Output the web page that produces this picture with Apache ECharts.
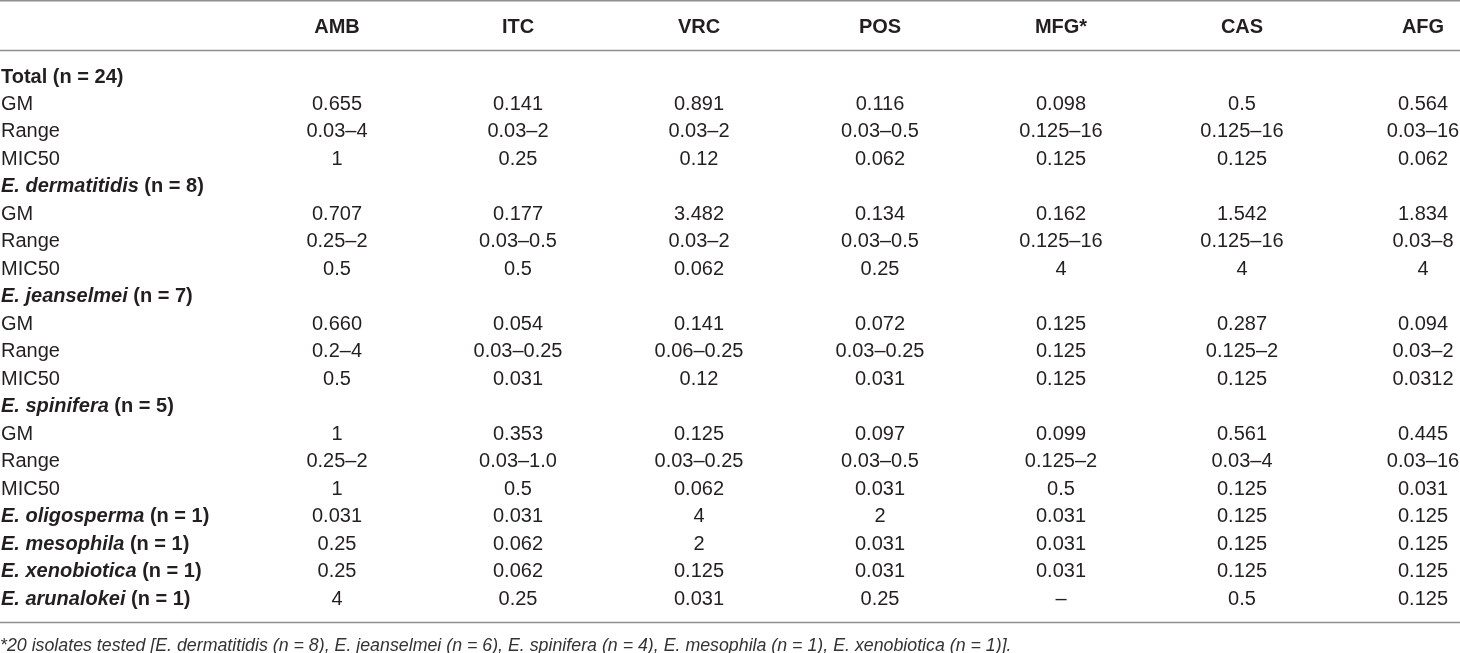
<!DOCTYPE html>
<html>
	<head>
		<title>MIC table</title>
		<meta charset="UTF-8">
		<script src="https://cdn.jsdelivr.net/npm/echarts@6/dist/echarts.min.js" type="text/javascript"></script>
		<style>
			body { margin: 0; background: #fff; }
			#table_chart { width: 1460px; height: 653px; }
		</style>
	</head>
	<body>
		<div id="table_chart"></div>
		<script type="text/javascript">
			// column headers (drugs)
			var columns = ['AMB', 'ITC', 'VRC', 'POS', 'MFG*', 'CAS', 'AFG'];

			// row labels, top to bottom
			var rowLabels = [
				'Total (n = 24)', 'GM', 'Range', 'MIC50',
				'E. dermatitidis (n = 8)', 'GM', 'Range', 'MIC50',
				'E. jeanselmei (n = 7)', 'GM', 'Range', 'MIC50',
				'E. spinifera (n = 5)', 'GM', 'Range', 'MIC50',
				'E. oligosperma (n = 1)', 'E. mesophila (n = 1)',
				'E. xenobiotica (n = 1)', 'E. arunalokei (n = 1)'
			];

			// one list per column, same order as rowLabels ('' = empty cell)
			var amb = ['', '0.655', '0.03–4', '1', '', '0.707', '0.25–2', '0.5', '', '0.660', '0.2–4', '0.5', '', '1', '0.25–2', '1', '0.031', '0.25', '0.25', '4'];
			var itc = ['', '0.141', '0.03–2', '0.25', '', '0.177', '0.03–0.5', '0.5', '', '0.054', '0.03–0.25', '0.031', '', '0.353', '0.03–1.0', '0.5', '0.031', '0.062', '0.062', '0.25'];
			var vrc = ['', '0.891', '0.03–2', '0.12', '', '3.482', '0.03–2', '0.062', '', '0.141', '0.06–0.25', '0.12', '', '0.125', '0.03–0.25', '0.062', '4', '2', '0.125', '0.031'];
			var pos = ['', '0.116', '0.03–0.5', '0.062', '', '0.134', '0.03–0.5', '0.25', '', '0.072', '0.03–0.25', '0.031', '', '0.097', '0.03–0.5', '0.031', '2', '0.031', '0.031', '0.25'];
			var mfg = ['', '0.098', '0.125–16', '0.125', '', '0.162', '0.125–16', '4', '', '0.125', '0.125', '0.125', '', '0.099', '0.125–2', '0.5', '0.031', '0.031', '0.031', '–'];
			var cas = ['', '0.5', '0.125–16', '0.125', '', '1.542', '0.125–16', '4', '', '0.287', '0.125–2', '0.125', '', '0.561', '0.03–4', '0.125', '0.125', '0.125', '0.125', '0.5'];
			var afg = ['', '0.564', '0.03–16', '0.062', '', '1.834', '0.03–8', '4', '', '0.094', '0.03–2', '0.0312', '', '0.445', '0.03–16', '0.031', '0.125', '0.125', '0.125', '0.125'];

			var footnote = '*20 isolates tested [E. dermatitidis (n = 8), E. jeanselmei (n = 6), E. spinifera (n = 4), E. mesophila (n = 1), E. xenobiotica (n = 1)].';

			var colValues = [amb, itc, vrc, pos, mfg, cas, afg];
			var cells = [];
			colValues.forEach(function (list, c) {
				list.forEach(function (v, r) {
					if (v !== '') cells.push([c, r, v]);
				});
			});

			var font = 'Liberation Sans, Helvetica, Arial, sans-serif';
			var ink = '#231f20';
			var ruleColor = '#8f8f8f';

			var W = 1460;
			var gridLeft = 337, gridRight = 37, gridTop = 77, gridBottom = 54;

			function rowFormatter(text) {
				if (text.indexOf('E. ') === 0) {
					var i = text.indexOf(' (');
					return '{sp|' + text.slice(0, i) + '}{b|' + text.slice(i) + '}';
				}
				if (text.indexOf('Total') === 0) return '{b|' + text + '}';
				return '{r|' + text + '}';
			}

			var option = {
				animation: false,
				backgroundColor: '#fff',
				title: {
					text: footnote,
					left: 0,
					top: 637,
					padding: 0,
					textStyle: {
						fontFamily: font,
						fontSize: 17.8,
						fontWeight: 'normal',
						fontStyle: 'italic',
						color: '#333'
					}
				},
				grid: {
					left: gridLeft,
					right: gridRight,
					top: gridTop,
					bottom: gridBottom,
					containLabel: false,
					outerBoundsMode: 'none'
				},
				xAxis: {
					type: 'category',
					position: 'top',
					data: columns,
					boundaryGap: false,
					axisLine: { show: false },
					axisTick: { show: false },
					splitLine: { show: false },
					axisLabel: {
						interval: 0,
						margin: 50,
						verticalAlign: 'middle',
						fontFamily: font,
						fontSize: 20,
						fontWeight: 'bold',
						color: ink
					}
				},
				yAxis: {
					type: 'category',
					inverse: true,
					data: rowLabels,
					boundaryGap: false,
					axisLine: { show: false },
					axisTick: { show: false },
					splitLine: { show: false },
					axisLabel: {
						interval: 0,
						margin: gridLeft - 1,
						align: 'left',
						formatter: rowFormatter,
						rich: {
							r: { fontFamily: font, fontSize: 20, color: ink },
							b: { fontFamily: font, fontSize: 20, fontWeight: 'bold', color: ink },
							sp: { fontFamily: font, fontSize: 20, fontWeight: 'bold', fontStyle: 'italic', color: ink }
						}
					}
				},
				series: [{
					type: 'scatter',
					data: cells,
					symbolSize: 1,
					itemStyle: { color: 'rgba(255,255,255,0)' },
					emphasis: { disabled: true },
					label: {
						show: true,
						position: 'inside',
						formatter: function (p) { return p.value[2]; },
						fontFamily: font,
						fontSize: 20,
						color: ink,
						opacity: 1,
						textBorderWidth: 0
					}
				}],
				graphic: [
					{ type: 'line', shape: { x1: 0, y1: 0.7, x2: W, y2: 0.7 }, style: { stroke: ruleColor, lineWidth: 1.4 } },
					{ type: 'line', shape: { x1: 0, y1: 50.5, x2: W, y2: 50.5 }, style: { stroke: ruleColor, lineWidth: 1.4 } },
					{ type: 'line', shape: { x1: 0, y1: 622.5, x2: W, y2: 622.5 }, style: { stroke: ruleColor, lineWidth: 1.4 } }
				]
			};

			var table_chart = echarts.init(document.getElementById('table_chart'));
			table_chart.setOption(option);
		</script>
	</body>
</html>
